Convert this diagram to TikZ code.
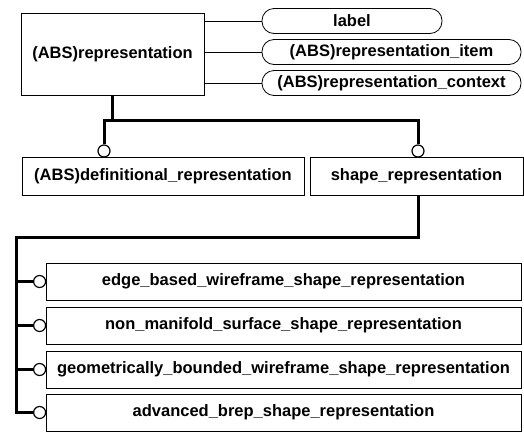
\documentclass[tikz,border=0pt]{standalone}
\usepackage{fontspec}
\setmainfont{Liberation Sans}

\tikzset{
	ent/.style={draw, line width=0.8pt, fill=white, inner sep=0pt, font=\fontsize{16.5}{18}\selectfont\bfseries},
	attr/.style={draw, line width=0.8pt, rounded corners=12pt, inner sep=0pt, font=\fontsize{16.5}{18}\selectfont\bfseries},
	ring/.style={draw, circle, fill=white, line width=1.2pt, minimum size=12pt, inner sep=0pt},
	tree/.style={line width=3pt},
	link/.style={line width=0.8pt}
}

\begin{document}
\begin{tikzpicture}[x=1pt, y=-1pt]
	\useasboundingbox (0,0) rectangle (524,432);
	%supertype and attributes
	\node[ent, minimum width=183pt, minimum height=82pt] (rep) at (112.5,54) {(ABS)representation};
	\node[attr, minimum width=180pt, minimum height=25pt] (lbl) at (352,21) {label};
	\node[attr, minimum width=259pt, minimum height=25pt] (item) at (391.5,52) {(ABS)representation\_item};
	\node[attr, minimum width=259pt, minimum height=25pt] (ctx) at (391.5,83) {(ABS)representation\_context};
	\draw[link] (rep.east |- lbl.west) -- (lbl.west);
	\draw[link] (rep.east |- item.west) -- (item.west);
	\draw[link] (rep.east |- ctx.west) -- (ctx.west);
	%first level
	\node[ent, minimum width=282pt, minimum height=38pt] (def) at (163,176) {(ABS)definitional\_representation};
	\node[ent, minimum width=213pt, minimum height=38pt] (shp) at (416.5,176) {shape\_representation};
	\coordinate (j1) at (112.5,120);
	\coordinate (j2) at (16,237);
	\node[ring] (o1) at (104,151) {};
	\node[ring] (o2) at (418,151) {};
	\draw[tree] (rep.south) -- (j1);
	\draw[tree] (o1.north) -- (o1 |- j1) -- (o2 |- j1) -- (o2.north);
	%subtypes of shape_representation
	\node[ent, minimum width=475pt, minimum height=37pt] (s1) at (283.5,281.5) {edge\_based\_wireframe\_shape\_representation};
	\node[ent, minimum width=475pt, minimum height=37pt] (s2) at (283.5,325.5) {non\_manifold\_surface\_shape\_representation};
	\node[ent, minimum width=475pt, minimum height=37pt] (s3) at (283.5,369.5) {geometrically\_bounded\_wireframe\_shape\_representation};
	\node[ent, minimum width=475pt, minimum height=37pt] (s4) at (283.5,412.5) {advanced\_brep\_shape\_representation};
	\foreach \s [count=\i] in {s1,s2,s3,s4}
		\node[ring] (r\i) at (\s.west) [xshift=-6pt] {};
	\draw[tree] (shp.south -| o2) -- (o2 |- j2) -- (j2) -- (j2 |- r4) -- (r4.west);
	\foreach \i in {1,2,3}
		\draw[tree] (j2 |- r\i) -- (r\i.west);
\end{tikzpicture}
\end{document}
